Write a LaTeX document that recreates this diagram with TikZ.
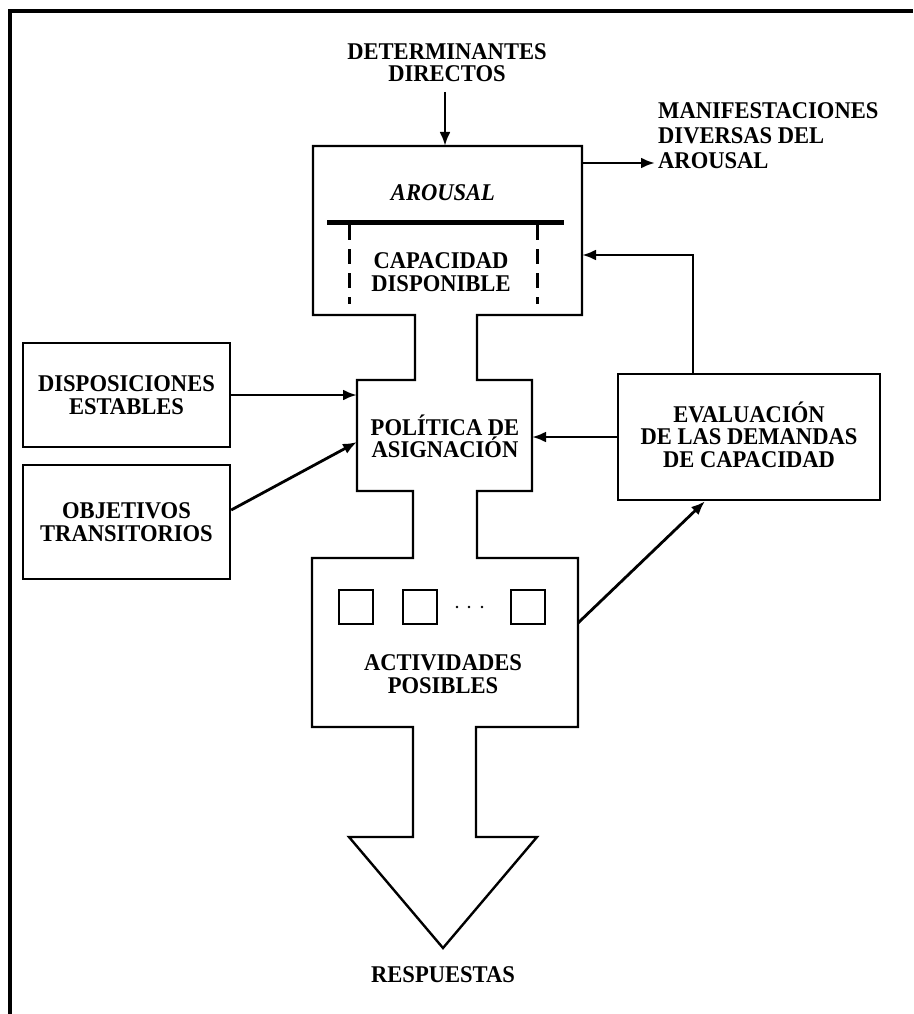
\documentclass[tikz,border=0pt]{standalone}
\usepackage{fontspec}
\setmainfont{Liberation Serif}[FakeStretch=0.94]
\usetikzlibrary{arrows.meta}
\begin{document}
\begin{tikzpicture}[x=1pt,y=-1pt,
  lbl/.style={font=\fontsize{24}{22.5}\selectfont\bfseries, align=center, inner sep=0pt},
  box/.style={draw, line width=2.4pt, inner sep=0pt, align=center, font=\fontsize{24}{22.5}\selectfont\bfseries},
  ghost/.style={inner sep=0pt, outer sep=0pt},
  sqbox/.style={draw, line width=2pt, minimum size=34pt, inner sep=0pt},
  arr/.style={-{Latex[length=14pt,width=11pt]}, line width=2.8pt},
  outline/.style={line width=2.4pt, line join=miter}]
\useasboundingbox (0,0) rectangle (913,1014);
\fill[white] (0,0) rectangle (913,1014);
\draw[line width=3.5pt] (10,1014) -- (10,11) -- (913,11);

% main flowing shape
\draw[outline] (313,146) -- (582,146) -- (582,315) -- (477,315) -- (477,380) -- (532,380)
  -- (532,491) -- (477,491) -- (477,558) -- (578,558) -- (578,727) -- (476,727)
  -- (476,837) -- (537,837) -- (443,948) -- (349,837) -- (413,837) -- (413,727)
  -- (312,727) -- (312,558) -- (413,558) -- (413,491) -- (357,491) -- (357,380)
  -- (415,380) -- (415,315) -- (313,315) -- cycle;

% anchor nodes of the shape parts
\node[ghost, minimum width=269pt, minimum height=169pt] (arousal) at (447.5,230.5) {};
\node[ghost, minimum width=175pt, minimum height=111pt] (pol) at (444.5,435.5) {};
\node[ghost, minimum width=266pt, minimum height=169pt] (act) at (445,642.5) {};

% texts
\node[lbl] (det) at (447,62.5) {DETERMINANTES\\DIRECTOS};
\node[lbl, align=left, anchor=west, font=\fontsize{24}{25}\selectfont\bfseries] (manif) at (658,136) {MANIFESTACIONES\\DIVERSAS DEL\\AROUSAL};
\node[lbl, font=\fontsize{24}{22.5}\selectfont\bfseries\itshape] (aroustxt) at (443,193) {AROUSAL};
\node[lbl] (captxt) at (441,272) {CAPACIDAD\\DISPONIBLE};
\node[lbl] (poltxt) at (445,438.5) {POL\smash{Í}TICA DE\\ASIGNACIÓN};
\node[lbl] (acttxt) at (443,674) {ACTIVIDADES\\POSIBLES};
\node[lbl] (resp) at (443,975) {RESPUESTAS};

% capacity bar and dashed sides
\draw[line width=5pt] (327,222) -- (564,222);
\draw[line width=3pt, dash pattern=on 15pt off 9pt] (349,225) -- (349,304);
\draw[line width=3pt, dash pattern=on 15pt off 9pt] (537,225) -- (537,304);

% side boxes
\node[box, minimum width=207pt, minimum height=104pt] (disp) at (126.5,395) {DISPOSICIONES\\ESTABLES};
\node[box, minimum width=207pt, minimum height=114pt] (obj) at (126.5,522) {OBJETIVOS\\TRANSITORIOS};
\node[box, minimum width=262pt, minimum height=126pt] (eval) at (749,437) {EVALUACI\smash{Ó}N\\DE LAS DEMANDAS\\DE CAPACIDAD};

% activity squares
\node[sqbox] (s1) at (356,607) {};
\node[sqbox] (s2) at (420,607) {};
\node[sqbox] (s3) at (528,607) {};
\fill (457,607) circle (1.4pt) (469,607) circle (1.4pt) (482,607) circle (1.4pt);

% connectors
\coordinate (detend) at (445,92);
\draw[arr] (detend) -- (detend |- arousal.north);
\coordinate (manifin) at (655,163);
\draw[arr] (manifin -| arousal.east) -- (manifin);
\coordinate (fb) at (693,255);
\draw[arr] (fb |- eval.north) -- (fb) -- (fb -| arousal.east);
\draw[arr] (eval.west) -- (eval.west -| pol.east);
\draw[arr] (disp.east) -- (disp.east -| pol.west);
\draw[arr] ([yshift=12pt]obj.east) -- ([yshift=-6.5pt]pol.west);
\draw[arr] ([yshift=19.5pt]act.east) -- ([xshift=-44pt]eval.south);
\end{tikzpicture}
\end{document}
